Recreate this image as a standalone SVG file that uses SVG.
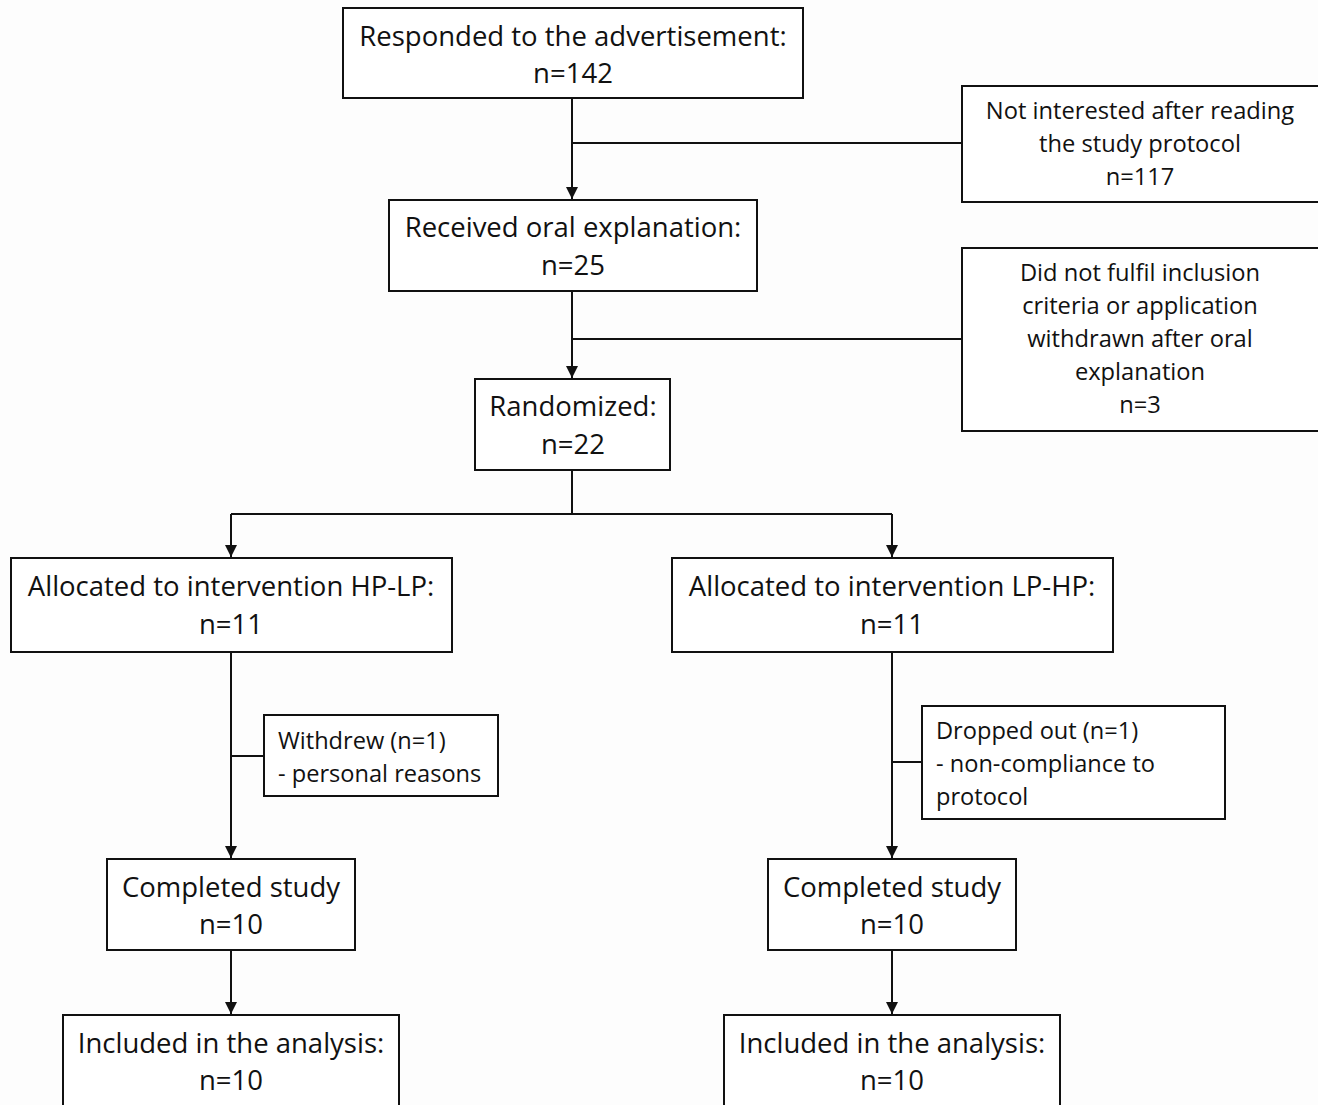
<svg xmlns="http://www.w3.org/2000/svg" width="1318" height="1105" viewBox="0 0 1318 1105">
<defs>
<marker id="arr" viewBox="0 0 10 10" refX="10" refY="5" markerWidth="12" markerHeight="12" orient="auto" markerUnits="userSpaceOnUse">
<path d="M0,0 L10,5 L0,10 z" fill="#111"/>
</marker>
<style>
.box{fill:#fff;stroke:#111;stroke-width:2}
text{font-family:"Open Sans",Lato,sans-serif;fill:#111;font-variant-ligatures:none}
.t{font-size:27.5px;text-anchor:middle}
.s{font-size:23.7px;text-anchor:middle}
.l{font-size:23.6px;text-anchor:start}
.c{fill:none;stroke:#111;stroke-width:2}
</style>
</defs>
<rect width="1318" height="1105" fill="#fdfdfd"/>
<g id="connectors">
<path class="c" d="M572,98 V199" marker-end="url(#arr)"/>
<path class="c" d="M572,143 H962"/>
<path class="c" d="M572,291 V378" marker-end="url(#arr)"/>
<path class="c" d="M572,339 H962"/>
<path class="c" d="M572,470 V514"/>
<path class="c" d="M231,514 H892"/>
<path class="c" d="M231,514 V557" marker-end="url(#arr)"/>
<path class="c" d="M892,514 V557" marker-end="url(#arr)"/>
<path class="c" d="M231,652 V858" marker-end="url(#arr)"/>
<path class="c" d="M231,756 H264"/>
<path class="c" d="M892,652 V858" marker-end="url(#arr)"/>
<path class="c" d="M892,762 H922"/>
<path class="c" d="M231,950 V1014" marker-end="url(#arr)"/>
<path class="c" d="M892,950 V1014" marker-end="url(#arr)"/>
</g>
<g id="n1"><rect class="box" x="343" y="8" width="460" height="90"/>
<text class="t" x="573" y="46">Responded to the advertisement:</text><text class="t" x="573" y="83">n=142</text></g>
<g id="n2"><rect class="box" x="962" y="86" width="358" height="116"/>
<text class="s" x="1140" y="119">Not interested after reading</text><text class="s" x="1140" y="152">the study protocol</text><text class="s" x="1140" y="185">n=117</text></g>
<g id="n3"><rect class="box" x="389" y="200" width="368" height="91"/>
<text class="t" x="573" y="237">Received oral explanation:</text><text class="t" x="573" y="275">n=25</text></g>
<g id="n4"><rect class="box" x="962" y="248" width="358" height="183"/>
<text class="s" x="1140" y="281">Did not fulfil inclusion</text><text class="s" x="1140" y="314">criteria or application</text><text class="s" x="1140" y="347">withdrawn after oral</text><text class="s" x="1140" y="380">explanation</text><text class="s" x="1140" y="413">n=3</text></g>
<g id="n5"><rect class="box" x="475" y="379" width="195" height="91"/>
<text class="t" x="573" y="416">Randomized:</text><text class="t" x="573" y="454">n=22</text></g>
<g id="n6"><rect class="box" x="11" y="558" width="441" height="94"/>
<text class="t" x="231" y="596">Allocated to intervention HP-LP:</text><text class="t" x="231" y="634">n=11</text></g>
<g id="n7"><rect class="box" x="672" y="558" width="441" height="94"/>
<text class="t" x="892" y="596">Allocated to intervention LP-HP:</text><text class="t" x="892" y="634">n=11</text></g>
<g id="n8"><rect class="box" x="264" y="715" width="234" height="81"/>
<text class="l" x="278" y="749">Withdrew (n=1)</text><text class="l" x="278" y="782">- personal reasons</text></g>
<g id="n9"><rect class="box" x="922" y="706" width="303" height="113"/>
<text class="l" x="936" y="739">Dropped out (n=1)</text><text class="l" x="936" y="772">- non-compliance to</text><text class="l" x="936" y="805">protocol</text></g>
<g id="n10"><rect class="box" x="107" y="859" width="248" height="91"/>
<text class="t" x="231" y="897">Completed study</text><text class="t" x="231" y="934">n=10</text></g>
<g id="n11"><rect class="box" x="768" y="859" width="248" height="91"/>
<text class="t" x="892" y="897">Completed study</text><text class="t" x="892" y="934">n=10</text></g>
<g id="n12"><rect class="box" x="63" y="1015" width="336" height="100"/>
<text class="t" x="231" y="1053">Included in the analysis:</text><text class="t" x="231" y="1090">n=10</text></g>
<g id="n13"><rect class="box" x="724" y="1015" width="336" height="100"/>
<text class="t" x="892" y="1053">Included in the analysis:</text><text class="t" x="892" y="1090">n=10</text></g>
</svg>
